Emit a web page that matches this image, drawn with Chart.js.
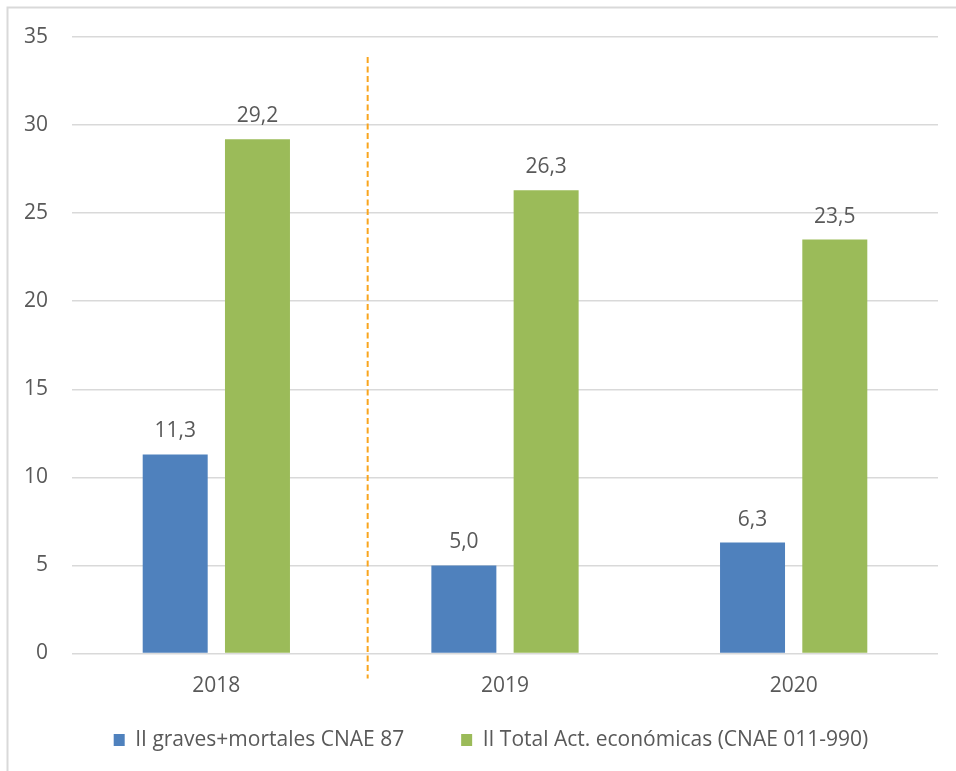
<!DOCTYPE html>
<html>
<head>
<meta charset="utf-8">
<script src="https://cdn.jsdelivr.net/npm/chart.js@4/dist/chart.umd.min.js"></script>
<style>
  html, body { margin: 0; padding: 0; background: #fff; }
  #wrap { width: 956px; height: 771px; position: relative; }
</style>
</head>
<body>
<div id="wrap"><canvas id="myChart" width="956" height="771"></canvas></div>
<script>
var anios = ['2018', '2019', '2020'];
var gravesMortales = [11.3, 5.0, 6.3];
var totalActividades = [29.2, 26.3, 23.5];
var yTicks = [0, 5, 10, 15, 20, 25, 30, 35];

var gris = '#595959';
var fuente = "'Open Sans', sans-serif";

// marco gris claro (solo arriba e izquierda como en la imagen)
var marco = {
    id: 'marco',
    beforeDraw: function (chart) {
        var c = chart.ctx;
        c.save();
        c.fillStyle = '#fff';
        c.fillRect(0, 0, chart.width, chart.height);
        c.strokeStyle = '#d9d9d9';
        c.lineWidth = 2;
        c.beginPath();
        c.moveTo(7.5, chart.height);
        c.lineTo(7.5, 7.5);
        c.lineTo(chart.width, 7.5);
        c.stroke();
        c.restore();
    }
};

// recoloca la leyenda (el padding grande es para separar los items)
var moverLeyenda = {
    id: 'moverLeyenda',
    afterLayout: function (chart) {
        var lg = chart.legend;
        var h = lg.bottom - lg.top;
        var lab = lg.options.labels;
        lg.top = 740 - lab.font.size / 2 - lab.padding;
        lg.bottom = lg.top + h;
        lg.left += 22;
        lg.right += 22;
    }
};

// linea discontinua naranja entre 2018 y 2019
var separador = {
    id: 'separador',
    afterDatasetsDraw: function (chart) {
        var x = chart.scales.x.getPixelForValue(0.5) + 7;
        var c = chart.ctx;
        c.save();
        c.strokeStyle = '#F9A51E';
        c.lineWidth = 2;
        c.setLineDash([6, 3.5]);
        c.beginPath();
        c.moveTo(x, chart.chartArea.top + 20);
        c.lineTo(x, chart.chartArea.bottom + 25);
        c.stroke();
        c.restore();
    }
};

// etiquetas de valor encima de cada barra
var etiquetas = {
    id: 'etiquetas',
    afterDatasetsDraw: function (chart) {
        var c = chart.ctx;
        c.save();
        c.font = '21px ' + fuente;
        c.fillStyle = gris;
        c.textAlign = 'center';
        c.textBaseline = 'alphabetic';
        chart.data.datasets.forEach(function (ds, i) {
            chart.getDatasetMeta(i).data.forEach(function (bar, j) {
                var txt = ds.data[j].toFixed(1).replace('.', ',');
                c.fillText(txt, bar.x, bar.y - 17);
            });
        });
        c.restore();
    }
};

var ctx = document.getElementById('myChart').getContext('2d');
var myChart = new Chart(ctx, {
    type: 'bar',
    data: {
        labels: anios,
        datasets: [{
            label: 'II graves+mortales CNAE 87',
            data: gravesMortales,
            backgroundColor: '#4F81BD',
            categoryPercentage: 0.57,
            barPercentage: 0.79
        },
        {
            label: 'II Total Act. económicas (CNAE 011-990)',
            data: totalActividades,
            backgroundColor: '#9BBB59',
            categoryPercentage: 0.57,
            barPercentage: 0.79
        }]
    },
    options: {
        responsive: false,
        animation: false,
        layout: {
            padding: { left: 0, right: 18, top: 37, bottom: -28.5 }
        },
        plugins: {
            tooltip: { enabled: false },
            legend: {
                position: 'bottom',
                labels: {
                    boxWidth: 11,
                    boxHeight: 12,
                    padding: 57,
                    color: gris,
                    font: { family: fuente, size: 21 }
                }
            }
        },
        scales: {
            x: {
                grid: { display: false },
                border: { display: false },
                ticks: {
                    color: gris,
                    padding: 14.5,
                    font: { family: fuente, size: 21, lineHeight: 1 }
                }
            },
            y: {
                min: 0,
                max: 35,
                afterBuildTicks: function (scale) {
                    scale.ticks = yTicks.map(function (v) { return { value: v }; });
                },
                grid: { color: '#d9d9d9', lineWidth: 1.5, drawTicks: false },
                border: { display: false },
                ticks: {
                    color: gris,
                    padding: 24,
                    font: { family: fuente, size: 21 }
                },
                afterFit: function (scale) { scale.width = 72; }
            }
        }
    },
    plugins: [marco, moverLeyenda, separador, etiquetas]
});
</script>
</body>
</html>
